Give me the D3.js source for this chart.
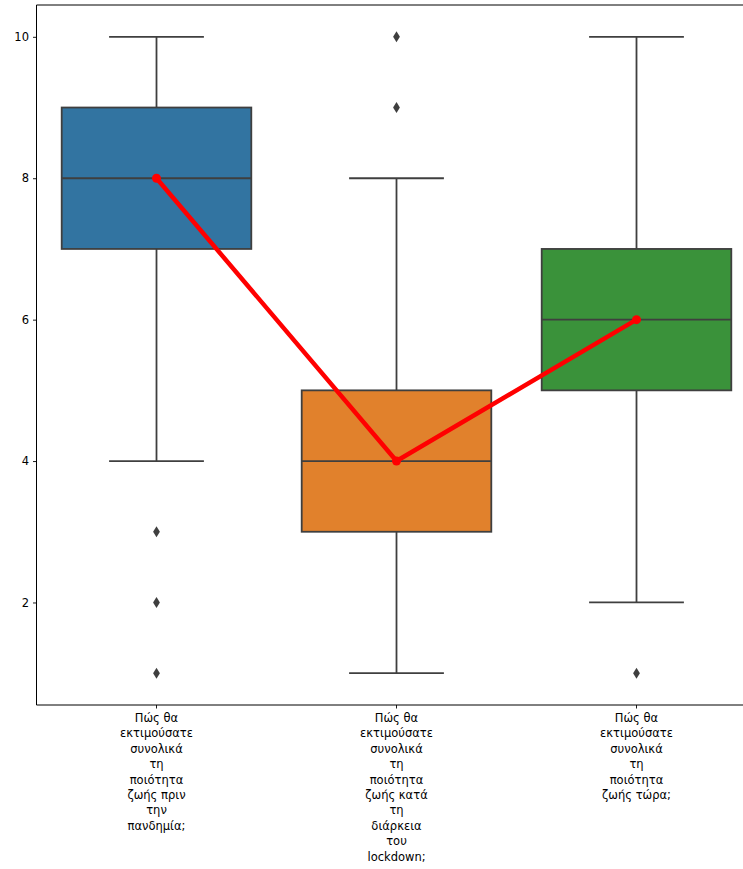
<!DOCTYPE html>
<html><head><meta charset="utf-8">
<script src="https://cdn.jsdelivr.net/npm/d3@7"></script>
<style>body{margin:0;background:#fff}svg{display:block}</style>
</head><body><svg id="c" width="743" height="869"></svg>
<script>
const categories = [
  ["Πώς θα","εκτιμούσατε","συνολικά","τη","ποιότητα","ζωής πριν","την","πανδημία;"],
  ["Πώς θα","εκτιμούσατε","συνολικά","τη","ποιότητα","ζωής κατά","τη","διάρκεια","του","lockdown;"],
  ["Πώς θα","εκτιμούσατε","συνολικά","τη","ποιότητα","ζωής τώρα;"]
];
const q1 = [7, 3, 5];
const medians = [8, 4, 6];
const q3 = [9, 5, 7];
const whiskLow = [4, 1, 2];
const whiskHigh = [10, 8, 10];
const outliers = [[3, 2, 1], [9, 10], [1]];
const lineValues = [8, 4, 6];
const colors = ["#3274a1", "#e1812c", "#3a923a"];
const yTicks = [2, 4, 6, 8, 10];

const svg = d3.select("#c");
const mLeft = 36.5, mTop = 5, mBottom = 705, mRight = 756.5;
const x = d3.scaleBand().domain(d3.range(categories.length)).range([mLeft, mRight]).paddingInner(0).paddingOuter(0);
const y = d3.scaleLinear().domain([0.55, 10.45]).range([mBottom, mTop]);
const gray = "#3f3f3f";
const bw = x.bandwidth() * 0.79;

const g = svg.append("g");
categories.forEach((c, i) => {
  const cx = x(i) + x.bandwidth() / 2;
  g.append("line").attr("x1", cx).attr("x2", cx).attr("y1", y(q3[i])).attr("y2", y(whiskHigh[i])).attr("stroke", gray).attr("stroke-width", 1.8);
  g.append("line").attr("x1", cx).attr("x2", cx).attr("y1", y(q1[i])).attr("y2", y(whiskLow[i])).attr("stroke", gray).attr("stroke-width", 1.8);
  [whiskHigh[i], whiskLow[i]].forEach(v => {
    g.append("line").attr("x1", cx - bw / 4).attr("x2", cx + bw / 4).attr("y1", y(v)).attr("y2", y(v)).attr("stroke", gray).attr("stroke-width", 1.8);
  });
  g.append("rect").attr("x", cx - bw / 2).attr("width", bw).attr("y", y(q3[i])).attr("height", y(q1[i]) - y(q3[i]))
    .attr("fill", colors[i]).attr("stroke", gray).attr("stroke-width", 1.8);
  g.append("line").attr("x1", cx - bw / 2).attr("x2", cx + bw / 2).attr("y1", y(medians[i])).attr("y2", y(medians[i])).attr("stroke", gray).attr("stroke-width", 1.8);
  outliers[i].forEach(v => {
    const yy = y(v);
    g.append("path").attr("d", `M${cx},${yy - 5.5} L${cx + 3.4},${yy} L${cx},${yy + 5.5} L${cx - 3.4},${yy} Z`).attr("fill", gray);
  });
});

const line = d3.line().x((d, i) => x(i) + x.bandwidth() / 2).y(d => y(d));
svg.append("path").datum(lineValues).attr("d", line).attr("fill", "none").attr("stroke", "#ff0000").attr("stroke-width", 4.5).attr("stroke-linejoin", "round");
svg.selectAll(".pt").data(lineValues).enter().append("circle")
  .attr("cx", (d, i) => x(i) + x.bandwidth() / 2).attr("cy", d => y(d)).attr("r", 4.5).attr("fill", "#ff0000");

const ya = svg.append("g").attr("transform", `translate(${mLeft},0)`)
  .call(d3.axisLeft(y).tickValues(yTicks).tickSize(3.5).tickPadding(4).tickFormat(d3.format("d")));
ya.select(".domain").remove();
ya.selectAll("line").attr("stroke", "#000").attr("stroke-width", 0.9);
ya.selectAll("text").attr("font-family", "DejaVu Sans").attr("font-size", 11.5).attr("fill", "#000");

const xa = svg.append("g").attr("transform", `translate(0,${mBottom})`)
  .call(d3.axisBottom(x).tickSize(3.5).tickFormat(""));
xa.select(".domain").remove();
xa.selectAll("line").attr("stroke", "#000").attr("stroke-width", 0.9);
categories.forEach((lines, i) => {
  const t = svg.append("text").attr("x", x(i) + x.bandwidth() / 2).attr("y", mBottom + 17)
    .attr("text-anchor", "middle").attr("font-family", "DejaVu Sans").attr("font-size", 11.5).attr("fill", "#000");
  lines.forEach((l, j) => t.append("tspan").attr("x", x(i) + x.bandwidth() / 2).attr("dy", j === 0 ? 0 : 15.4).text(l));
});

svg.append("line").attr("x1", mLeft).attr("x2", mLeft).attr("y1", mTop).attr("y2", mBottom).attr("stroke", "#000").attr("stroke-width", 1);
svg.append("line").attr("x1", mLeft).attr("x2", mRight).attr("y1", mBottom).attr("y2", mBottom).attr("stroke", "#000").attr("stroke-width", 1);
svg.append("line").attr("x1", mLeft).attr("x2", mRight).attr("y1", mTop).attr("y2", mTop).attr("stroke", "#000").attr("stroke-width", 1);
</script></body></html>
